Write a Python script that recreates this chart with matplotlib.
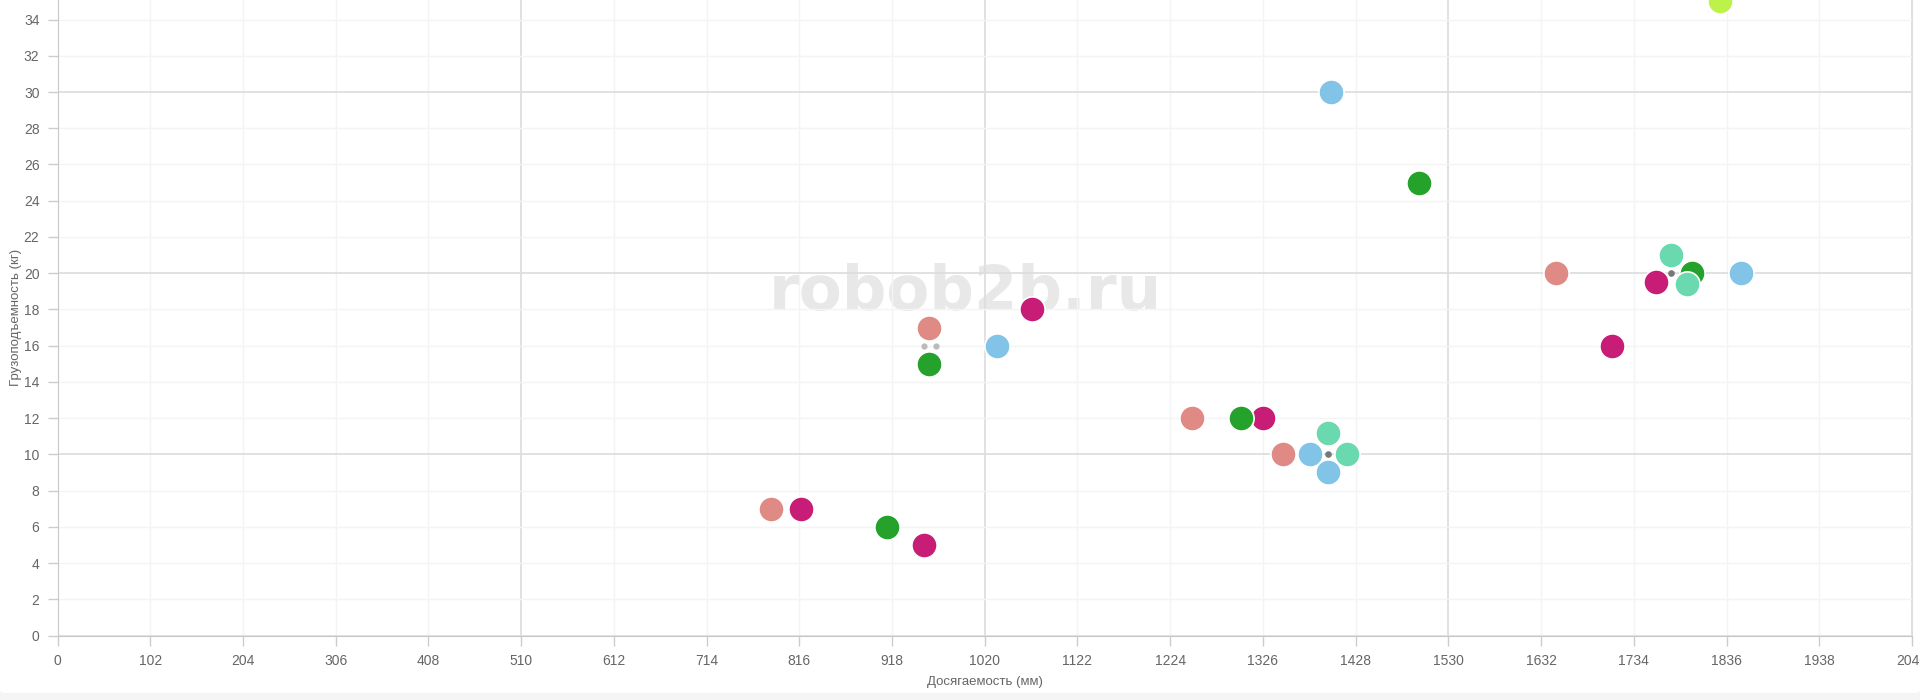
import matplotlib
matplotlib.use('Agg')
import matplotlib.pyplot as plt
from matplotlib.ticker import MultipleLocator, FormatStrFormatter
from matplotlib.patches import FancyBboxPatch

# данные: досягаемость (мм) и грузоподъемность (кг) по группам цветов
salmon_x = [785, 959, 1248, 1348, 1648]
salmon_y = [7, 17, 12, 10, 20]
magenta_x = [818, 953, 1072, 1326, 1710, 1758]
magenta_y = [7, 5, 18, 12, 16, 19.5]
green_x = [913, 959, 1302, 1498, 1798]
green_y = [6, 15, 12, 25, 20]
blue_x = [1033, 1378, 1398, 1401, 1852]
blue_y = [16, 10, 9, 30, 20]
teal_x = [1398, 1418, 1775, 1793]
teal_y = [11.2, 10, 21, 19.4]
lime_x = [1829]
lime_y = [35]
# центры групп наложенных точек
hub_x = [1398, 1775]
hub_y = [10, 20]
leg_x = [953, 966]
leg_y = [16, 16]

series = [
    (salmon_x, salmon_y, '#e08a85'),
    (magenta_x, magenta_y, '#c71d76'),
    (green_x, green_y, '#24a22c'),
    (blue_x, blue_y, '#82c4e7'),
    (teal_x, teal_y, '#6bd9b0'),
    (lime_x, lime_y, '#bdf24b'),
]

plt.rcParams['font.family'] = ['Liberation Sans', 'DejaVu Sans']

fig = plt.figure(figsize=(19.2, 7), dpi=100, facecolor='#f5f5f5')
card = FancyBboxPatch((0, 7 / 700), 1, 1.1, boxstyle='round,pad=0,rounding_size=0.004',
                      transform=fig.transFigure, facecolor='white', edgecolor='none', zorder=-10)
fig.patches.append(card)

ax = fig.add_axes([57.5 / 1920, 1 - 635.5 / 700, (1912 - 57.5) / 1920, 635.5 / 700])
ax.patch.set_alpha(0)
ax.set_xlim(0, 2040)
ax.set_ylim(0, 35.08)

ax.xaxis.set_major_locator(MultipleLocator(510))
ax.xaxis.set_minor_locator(MultipleLocator(102))
ax.yaxis.set_major_locator(MultipleLocator(10))
ax.yaxis.set_minor_locator(MultipleLocator(2))
for a in (ax.xaxis, ax.yaxis):
    a.set_major_formatter(FormatStrFormatter('%d'))
    a.set_minor_formatter(FormatStrFormatter('%d'))

ax.set_axisbelow(True)
ax.grid(which='major', color='#dedede', linewidth=1.3)
ax.grid(which='minor', color='#f4f4f4', linewidth=1)
ax.tick_params(which='both', colors='#cccccc', labelcolor='#666666', labelsize=10,
               length=7, width=1, pad=6)

ax.spines['top'].set_visible(False)
ax.spines['right'].set_color('#dedede')
ax.spines['left'].set_color('#c8c8c8')
ax.spines['bottom'].set_color('#c8c8c8')

ax.text(965 / 1920, 1 - 310 / 700, 'robob2b.ru', transform=fig.transFigure,
        ha='center', va='baseline', fontsize=45, fontweight='bold',
        family='DejaVu Sans', color='#e8e8e8', zorder=0.3)

for xs, ys, c in series:
    ax.scatter(xs, ys, s=330, color=c, edgecolor='white', linewidth=1.2, zorder=3, clip_on=False)
ax.scatter(hub_x, hub_y, s=14, color='#777777', zorder=4)
ax.scatter(leg_x, leg_y, s=12, color='#bbbbbb', zorder=2)

ax.set_xlabel('Досягаемость (мм)', fontsize=9.5, color='#666666', labelpad=6)
ax.set_ylabel('Грузоподъемность (кг)', fontsize=9.5, color='#666666', labelpad=1)

fig.savefig('out.png', dpi=100, facecolor='#f5f5f5')
